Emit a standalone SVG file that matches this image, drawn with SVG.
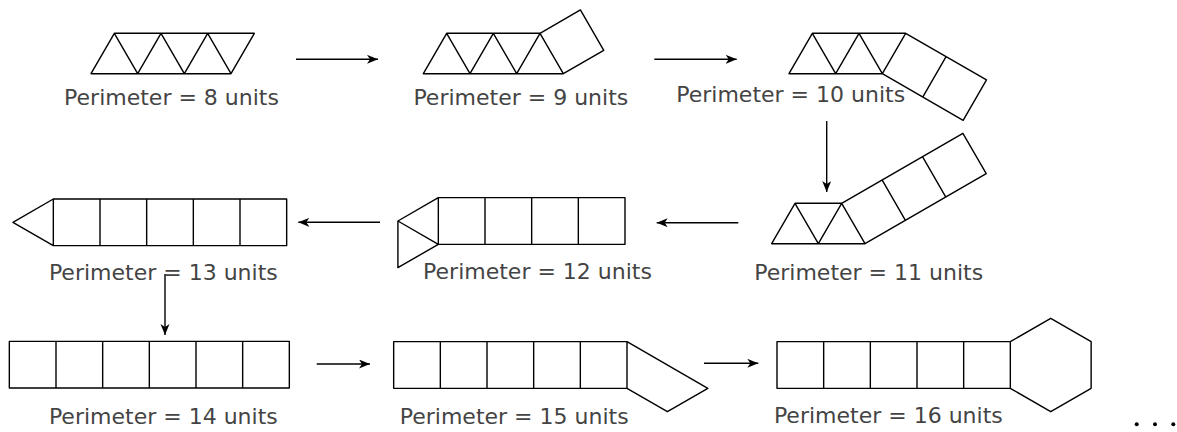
<svg xmlns="http://www.w3.org/2000/svg" width="1177" height="432" viewBox="0 0 1177 432">
<style>
.shape{fill:none;stroke:#000;stroke-width:1.4;stroke-linejoin:round}
.lbl{font-family:"DejaVu Sans","Liberation Sans",sans-serif;font-size:22px;fill:#444;text-anchor:middle}
.conn{stroke:#000;stroke-width:1.4;fill:none;marker-end:url(#arr)}
</style>
<defs>
<marker id="arr" markerUnits="userSpaceOnUse" markerWidth="12" markerHeight="10" refX="11" refY="4.5" orient="auto">
<path d="M0,0 L11,4.5 L0,9 L3,4.5 Z" fill="#000"/>
</marker>
</defs>
<rect width="1177" height="432" fill="#fff"/>
<g id="fig8">
<path class="shape" d="M91,73.7 H231 L254.33,33.3 H114.33 Z M114.33,33.3 L137.67,73.7 L161,33.3 L184.33,73.7 L207.67,33.3 L231,73.7"/>
<text class="lbl" x="171.5" y="105">Perimeter = 8 units</text>
</g>
<g id="fig9">
<path class="shape" d="M423.33,73.7 H563.33 L540,33.3 H446.67 Z M446.67,33.3 L470,73.7 L493.33,33.3 L516.67,73.7 L540,33.3 M540,33.3 L580.41,9.97 L603.74,50.37 L563.33,73.7"/>
<text class="lbl" x="520.8" y="105">Perimeter = 9 units</text>
</g>
<g id="fig10">
<path class="shape" d="M789,73.7 H882.33 L905.67,33.3 H812.33 Z M812.33,33.3 L835.67,73.7 L859,33.3 L882.33,73.7 M905.67,33.3 L986.49,79.96 L963.15,120.36 L882.33,73.7 M946.08,56.63 L922.74,97.03"/>
<text class="lbl" x="790.7" y="102">Perimeter = 10 units</text>
</g>
<g id="fig11">
<path class="shape" d="M771.67,243.7 H865 L841.67,203.3 H795 Z M795,203.3 L818.33,243.7 L841.67,203.3 M841.67,203.3 L962.9,133.31 L986.23,173.71 L865,243.7 M882.08,179.97 L905.41,220.37 M922.49,156.64 L945.82,197.04"/>
<text class="lbl" x="868.7" y="280">Perimeter = 11 units</text>
</g>
<g id="fig12">
<path class="shape" d="M438.33,197.67 H625 V244.33 H438.33 Z M485,197.67 V244.33 M531.67,197.67 V244.33 M578.33,197.67 V244.33 M438.33,197.67 L397.92,221 V267.67 L438.33,244.33 M397.92,221 L438.33,244.33"/>
<text class="lbl" x="537.5" y="279">Perimeter = 12 units</text>
</g>
<g id="fig13">
<path class="shape" d="M53.33,199 H286.67 V245.67 H53.33 Z M100,199 V245.67 M146.67,199 V245.67 M193.33,199 V245.67 M240,199 V245.67 M53.33,199 L12.92,222.33 L53.33,245.67"/>
<text class="lbl" x="163.3" y="280">Perimeter = 13 units</text>
</g>
<g id="fig14">
<path class="shape" d="M9.33,341.33 H289.33 V388 H9.33 Z M56,341.33 V388 M102.67,341.33 V388 M149.33,341.33 V388 M196,341.33 V388 M242.67,341.33 V388"/>
<text class="lbl" x="163.3" y="424">Perimeter = 14 units</text>
</g>
<g id="fig15">
<path class="shape" d="M393.67,341.67 H627 V388.33 H393.67 Z M440.33,341.67 V388.33 M487,341.67 V388.33 M533.67,341.67 V388.33 M580.33,341.67 V388.33 M627,341.67 L707.83,388.33 L667.41,411.67 L627,388.33"/>
<text class="lbl" x="514.2" y="424">Perimeter = 15 units</text>
</g>
<g id="fig16">
<path class="shape" d="M777,341.67 H1010.33 V388.33 H777 Z M823.67,341.67 V388.33 M870.33,341.67 V388.33 M917,341.67 V388.33 M963.67,341.67 V388.33 M1010.33,341.67 L1050.74,318.33 L1091.15,341.67 V388.33 L1050.74,411.67 L1010.33,388.33"/>
<text class="lbl" x="888.3" y="423">Perimeter = 16 units</text>
</g>
<g id="ellipsis" fill="#000">
<circle cx="1136.7" cy="424.3" r="2"/>
<circle cx="1155" cy="424.3" r="2"/>
<circle cx="1173.3" cy="424.3" r="2"/>
</g>
<g id="connectors">
<line class="conn" x1="296" y1="59.3" x2="378" y2="59.3"/>
<line class="conn" x1="654.3" y1="59.3" x2="736.7" y2="59.3"/>
<line class="conn" x1="826.7" y1="121" x2="826.7" y2="192"/>
<line class="conn" x1="738.3" y1="222.7" x2="656.7" y2="222.7"/>
<line class="conn" x1="380" y1="222.3" x2="298.3" y2="222.3"/>
<line class="conn" x1="165" y1="274" x2="165" y2="335"/>
<line class="conn" x1="316.7" y1="364" x2="370" y2="364"/>
<line class="conn" x1="704" y1="363.3" x2="758.3" y2="363.3"/>
</g>
</svg>
